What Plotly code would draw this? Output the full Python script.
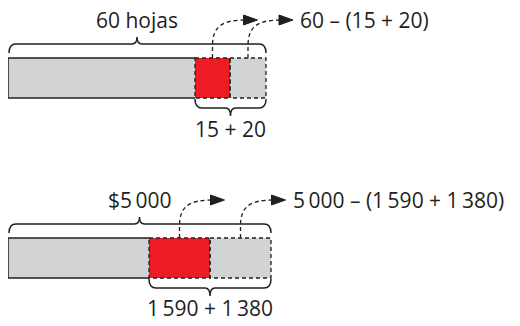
import plotly.graph_objects as go

# ---- data ----
total_labels = ["60 hojas", "$5\u2009000"]
part_labels = ["15 + 20", "1\u2009590 + 1\u2009380"]
result_labels = ["60 \u2013 (15 + 20)", "5\u2009000 \u2013 (1\u2009590 + 1\u2009380)"]
# schematic segment lengths of each bar: remainder, part 1, part 2
rest_len = [187, 141]
part1_len = [35, 61]
part2_len = [36, 61]

# ---- layout constants ----
PAGE_OFF = 8          # default body margin of the html page
W, H = 520 - PAGE_OFF, 326 - PAGE_OFF
X0 = 8
BAR_H = 40
bar_top = [58, 238]
INK = "#231f20"
GRAY = "#d1d3d4"
RED = "#ed1c24"
FONT = "Open Sans"
FS = 21
DASH = "4px,3px"

fig = go.Figure()
shapes = []
annotations = []


def brace(x0, x1, y_end, y_line, y_tip, xm, r=7, rt=5):
    return (f"M {x0},{y_end} Q {x0},{y_line} {x0 + r},{y_line} "
            f"L {xm - rt},{y_line} Q {xm},{y_line} {xm},{y_tip} "
            f"Q {xm},{y_line} {xm + rt},{y_line} "
            f"L {x1 - r},{y_line} Q {x1},{y_line} {x1},{y_end}")


for i in range(2):
    top = bar_top[i]
    bot = top + BAR_H
    yc = top + BAR_H / 2
    a = X0
    b = a + rest_len[i]
    c = b + part1_len[i]
    d = c + part2_len[i]
    for base_, ln, col in [(a, rest_len[i], GRAY), (b, part1_len[i], RED), (c, part2_len[i], GRAY)]:
        fig.add_trace(go.Bar(orientation="h", y=[yc], x=[ln], base=[base_], width=BAR_H,
                             marker=dict(color=col, line=dict(width=0)), showlegend=False,
                             hoverinfo="skip"))
    shapes.append(dict(type="path", path=f"M {b},{top} L {a},{top} L {a},{bot} L {b},{bot}",
                       line=dict(color=INK, width=1.5), layer="above"))
    for (u, v) in [(b, c), (c, d)]:
        shapes.append(dict(type="rect", x0=u, x1=v, y0=top, y1=bot,
                           line=dict(color=INK, width=1.3, dash=DASH), layer="above"))
    xm_total = (a + d) / 2
    shapes.append(dict(type="path", path=brace(a + 1, d, top - 5, top - 14, top - 21, xm_total),
                       line=dict(color=INK, width=1.5), layer="above"))
    annotations.append(dict(x=xm_total, y=top - 38, text=total_labels[i], showarrow=False,
                            xanchor="center", yanchor="middle",
                            font=dict(family=FONT, size=FS, color=INK)))
    xm_parts = (b + d) / 2
    shapes.append(dict(type="path", path=brace(b, d, bot + 1, bot + 10, bot + 18, xm_parts),
                       line=dict(color=INK, width=1.5), layer="above"))
    annotations.append(dict(x=xm_parts, y=bot + 31 - i, text=part_labels[i], showarrow=False,
                            xanchor="center", yanchor="middle",
                            font=dict(family=FONT, size=FS, color=INK)))
    ya = top - 38
    tips = []
    for (u, v) in [(b, c), (c, d)]:
        sx = (u + v) / 2
        tip = sx + 45
        tips.append(tip)
        base = tip - 14
        shapes.append(dict(type="path",
                           path=f"M {sx},{top} L {sx},{top - 12} C {sx},{ya + 6} {sx + 10},{ya} {base + 2},{ya}",
                           line=dict(color=INK, width=1.3, dash=DASH), layer="above"))
        shapes.append(dict(type="path",
                           path=f"M {base},{ya - 5} L {tip},{ya} L {base},{ya + 5} Z",
                           line=dict(color=INK, width=1), fillcolor=INK, layer="above"))
    annotations.append(dict(x=tips[-1] + 5, y=ya, text=result_labels[i], showarrow=False,
                            xanchor="left", yanchor="middle",
                            font=dict(family=FONT, size=FS, color=INK)))

fig.update_layout(
    width=W, height=H,
    margin=dict(l=0, r=0, t=0, b=0),
    paper_bgcolor="white", plot_bgcolor="white",
    barmode="overlay",
    xaxis=dict(range=[PAGE_OFF, 520], visible=False, fixedrange=True),
    yaxis=dict(range=[326, PAGE_OFF], visible=False, fixedrange=True),
    shapes=shapes, annotations=annotations,
    showlegend=False,
)

fig.write_html("out.html")
